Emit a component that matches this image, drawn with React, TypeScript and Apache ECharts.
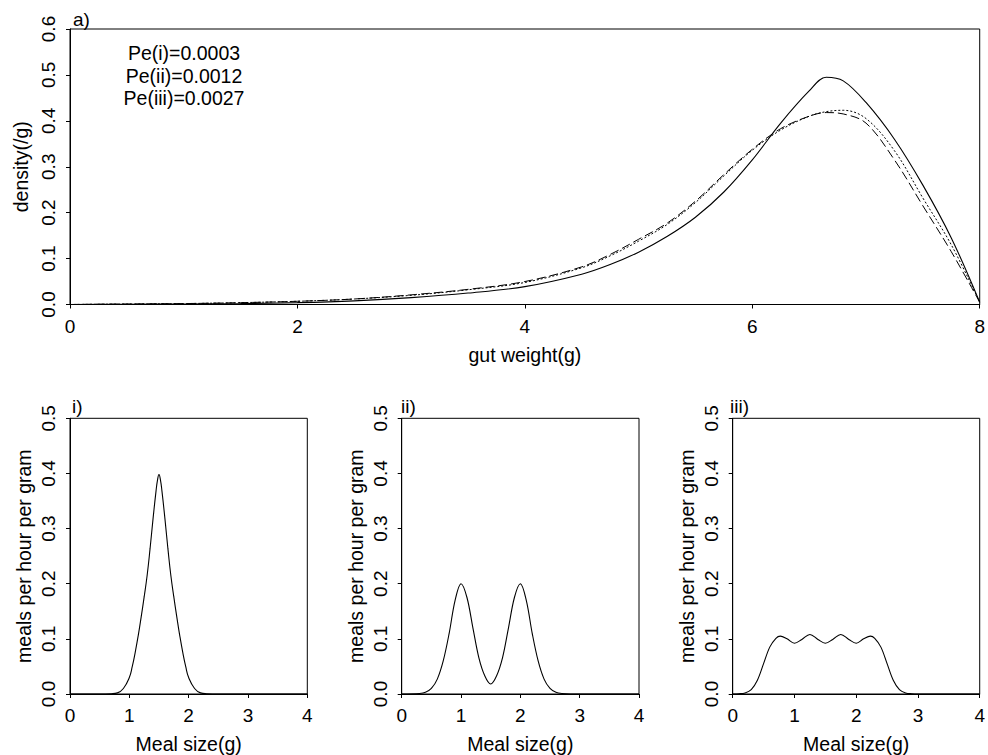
import React, { useEffect, useRef } from "react";
import * as echarts from "echarts";

// ---- Top panel a): gut weight density ----
const gutX = [0, 0.5, 1, 1.5, 2, 2.5, 3, 3.5, 4, 4.5, 4.75, 5, 5.25, 5.5, 5.75, 6, 6.25, 6.5, 6.65, 6.8, 7, 7.25, 7.5, 7.75, 8];
const densityI = [0, 0.0005, 0.001, 0.002, 0.004, 0.008, 0.015, 0.025, 0.039, 0.066, 0.087, 0.114, 0.148, 0.19, 0.245, 0.315, 0.395, 0.465, 0.495, 0.487, 0.44, 0.36, 0.26, 0.145, 0.005];
const densityII = [0, 0.001, 0.002, 0.004, 0.007, 0.012, 0.02, 0.032, 0.048, 0.08, 0.106, 0.138, 0.174, 0.222, 0.28, 0.336, 0.38, 0.41, 0.42, 0.423, 0.405, 0.335, 0.232, 0.13, 0.005];
const densityIII = [0, 0.001, 0.002, 0.004, 0.007, 0.012, 0.021, 0.033, 0.05, 0.082, 0.109, 0.142, 0.177, 0.225, 0.283, 0.338, 0.383, 0.41, 0.418, 0.415, 0.395, 0.315, 0.215, 0.115, 0.005];
const peLabels = ["Pe(i)=0.0003", "Pe(ii)=0.0012", "Pe(iii)=0.0027"];

// ---- Bottom panels: meal size distributions ----
const mealXi = [0, 0.5, 0.7, 0.8, 0.9, 1.0, 1.05, 1.1, 1.15, 1.2, 1.25, 1.3, 1.35, 1.4, 1.45, 1.475, 1.5, 1.525, 1.55, 1.6, 1.65, 1.7, 1.75, 1.8, 1.85, 1.9, 1.95, 2.0, 2.1, 2.2, 2.3, 2.5, 4];
const mealYi = [0, 0, 0.0005, 0.002, 0.01, 0.03, 0.05, 0.076, 0.106, 0.14, 0.176, 0.215, 0.264, 0.318, 0.368, 0.388, 0.398, 0.388, 0.368, 0.318, 0.264, 0.215, 0.176, 0.14, 0.106, 0.076, 0.05, 0.03, 0.01, 0.002, 0.0005, 0, 0];

const mealXii = [0, 0.3, 0.4, 0.5, 0.6, 0.7, 0.8, 0.9, 1.0, 1.1, 1.2, 1.3, 1.4, 1.5, 1.6, 1.7, 1.8, 1.9, 2.0, 2.1, 2.2, 2.3, 2.4, 2.5, 2.6, 2.7, 3, 4];
const mealYii = [0, 0.001, 0.003, 0.01, 0.027, 0.06, 0.11, 0.17, 0.2, 0.175, 0.12, 0.066, 0.033, 0.018, 0.033, 0.066, 0.12, 0.175, 0.2, 0.17, 0.11, 0.06, 0.027, 0.01, 0.003, 0.001, 0, 0];

const mealXiii = [0, 0.1, 0.2, 0.3, 0.4, 0.5, 0.6, 0.7, 0.77, 0.88, 1.0, 1.12, 1.25, 1.38, 1.5, 1.62, 1.75, 1.88, 2.0, 2.12, 2.23, 2.3, 2.4, 2.5, 2.6, 2.7, 2.8, 2.9, 3, 4];
const mealYiii = [0, 0.0005, 0.002, 0.008, 0.025, 0.055, 0.085, 0.101, 0.105, 0.1, 0.092, 0.099, 0.108, 0.099, 0.092, 0.099, 0.108, 0.099, 0.092, 0.1, 0.105, 0.101, 0.085, 0.055, 0.025, 0.008, 0.002, 0.0005, 0, 0];

const panelLabels = ["a)", "i)", "ii)", "iii)"];

const FONT = "'Liberation Sans', Arial, Helvetica, sans-serif";
const INK = "#000";

const pairs = (xs: number[], ys: number[]) => xs.map((x, i) => [x, ys[i]]);

export default function App() {
  const ref = useRef<HTMLDivElement>(null);
  useEffect(() => {
    if (!ref.current) return;
    const chart = echarts.init(ref.current, undefined, { renderer: "svg" });

    const grids = [
      { left: 70, top: 29, width: 910, height: 275.5 },
      { left: 70, top: 418.3, width: 237.3, height: 275.7 },
      { left: 401.7, top: 418.3, width: 237.3, height: 275.7 },
      { left: 732.7, top: 418.3, width: 247.3, height: 275.7 },
    ].map((g) => ({ ...g, show: true, borderColor: INK, borderWidth: 1, backgroundColor: "transparent", containLabel: false }));

    const axisCommon = {
      axisLine: { show: true, lineStyle: { color: INK, width: 1 } },
      axisTick: { show: true, inside: false, length: 4, lineStyle: { color: INK } },
      splitLine: { show: false },
      nameTextStyle: { color: INK, fontFamily: FONT, fontSize: 19.5 },
    };

    const xAxes = grids.map((_, i) => ({
      ...axisCommon,
      type: "value",
      gridIndex: i,
      min: 0,
      max: i === 0 ? 8 : 4,
      interval: i === 0 ? 2 : 1,
      name: i === 0 ? "gut weight(g)" : "Meal size(g)",
      nameLocation: "middle",
      nameGap: 40,
      axisLabel: { color: INK, fontFamily: FONT, fontSize: 19, margin: 12, formatter: (v: number) => String(v) },
    }));

    const yAxes = grids.map((_, i) => ({
      ...axisCommon,
      type: "value",
      gridIndex: i,
      min: 0,
      max: i === 0 ? 0.6 : 0.5,
      interval: 0.1,
      name: i === 0 ? "density(/g)" : "meals per hour per gram",
      nameLocation: "middle",
      nameGap: 36,
      axisLabel: { color: INK, fontFamily: FONT, fontSize: 19, margin: 12, rotate: 90, formatter: (v: number) => v.toFixed(1) },
    }));

    const lineBase = { type: "line", showSymbol: false, smooth: 0.35, silent: true, clip: true };

    const series = [
      { ...lineBase, name: "i", xAxisIndex: 0, yAxisIndex: 0, data: pairs(gutX, densityI), lineStyle: { color: INK, width: 1.1, type: "solid" } },
      { ...lineBase, name: "ii", xAxisIndex: 0, yAxisIndex: 0, data: pairs(gutX, densityII), lineStyle: { color: INK, width: 1, type: [2, 2] } },
      { ...lineBase, name: "iii", xAxisIndex: 0, yAxisIndex: 0, data: pairs(gutX, densityIII), lineStyle: { color: INK, width: 1, type: [9, 4] } },
      { ...lineBase, smooth: 0.5, name: "meal i", xAxisIndex: 1, yAxisIndex: 1, data: pairs(mealXi, mealYi), lineStyle: { color: INK, width: 1.1 } },
      { ...lineBase, name: "meal ii", xAxisIndex: 2, yAxisIndex: 2, data: pairs(mealXii, mealYii), lineStyle: { color: INK, width: 1.1 } },
      { ...lineBase, name: "meal iii", xAxisIndex: 3, yAxisIndex: 3, data: pairs(mealXiii, mealYiii), lineStyle: { color: INK, width: 1.1 } },
    ];

    const labelPos = [
      [73, 19],
      [72, 406],
      [401, 406],
      [730, 406],
    ];

    const graphic = [
      ...peLabels.map((t, i) => ({
        type: "text",
        x: 184,
        y: 53 + i * 22.5,
        style: { text: t, fill: INK, font: `19.5px ${FONT}`, textAlign: "center", textVerticalAlign: "middle" },
      })),
      ...panelLabels.map((t, i) => ({
        type: "text",
        x: labelPos[i][0],
        y: labelPos[i][1],
        style: { text: t, fill: INK, font: `19px ${FONT}`, textAlign: "left", textVerticalAlign: "middle" },
      })),
    ];

    chart.setOption({
      animation: false,
      backgroundColor: "#fff",
      textStyle: { fontFamily: FONT },
      grid: grids,
      xAxis: xAxes,
      yAxis: yAxes,
      series,
      graphic,
    });
    return () => chart.dispose();
  }, []);

  return <div ref={ref} style={{ position: "fixed", left: 0, top: 0, width: 988, height: 755 }} />;
}
